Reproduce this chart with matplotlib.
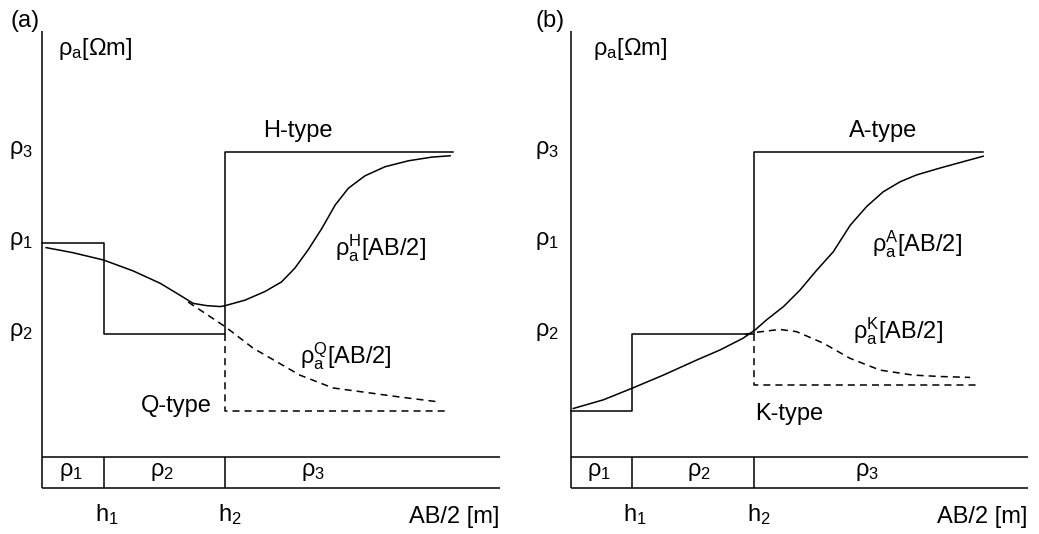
import matplotlib
matplotlib.use('Agg')
import matplotlib.pyplot as plt

plt.rcParams['font.family'] = ['Liberation Sans', 'DejaVu Sans']
plt.rcParams['mathtext.fontset'] = 'custom'
plt.rcParams['mathtext.rm'] = 'Liberation Sans'
plt.rcParams['mathtext.it'] = 'Liberation Sans'
plt.rcParams['mathtext.bf'] = 'Liberation Sans:bold'

# layer boundaries and resistivity levels (arbitrary units, axes 0..10)
h1_a, h2_a = 1.35, 4.00
h1_b, h2_b = 1.34, 4.01
strip_top = 0.68
rho3_lvl, rho1_lvl, rho2_lvl = 7.35, 5.36, 3.36
q_low, a_low, k_low = 1.69, 1.69, 2.26

# step models
h_step_x = [0, h1_a, h1_a, h2_a, h2_a, 8.98]
h_step_y = [rho1_lvl, rho1_lvl, rho2_lvl, rho2_lvl, rho3_lvl, rho3_lvl]
q_step_x = [h2_a, h2_a, 8.86]
q_step_y = [rho2_lvl, q_low, q_low]

a_step_x = [0, h1_b, h1_b, h2_b, h2_b, 9.01]
a_step_y = [a_low, a_low, rho2_lvl, rho2_lvl, rho3_lvl, rho3_lvl]
k_step_x = [h2_b, h2_b, 8.92]
k_step_y = [rho2_lvl, k_low, k_low]

# apparent resistivity curves
h_x = [0.09, 0.67, 1.34, 1.99, 2.58, 3.01, 3.30, 3.60, 3.89, 4.00, 4.43,
       4.87, 5.23, 5.52, 5.81, 6.11, 6.40, 6.69, 7.05, 7.49, 8.00, 8.51, 8.91]
h_y = [5.26, 5.15, 4.99, 4.75, 4.48, 4.22, 4.04, 3.99, 3.97, 3.99, 4.11,
       4.30, 4.51, 4.81, 5.21, 5.68, 6.19, 6.56, 6.83, 7.03, 7.16, 7.24, 7.27]
q_x = [3.19, 4.00, 4.61, 5.63, 6.35, 7.82, 8.62]
q_y = [4.07, 3.53, 3.06, 2.47, 2.19, 1.99, 1.89]

a_x = [0.05, 0.71, 1.33, 2.02, 2.75, 3.26, 3.77, 4.03, 4.28, 4.65, 5.01,
       5.38, 5.74, 6.11, 6.47, 6.83, 7.20, 7.56, 8.07, 8.58, 9.02]
a_y = [1.74, 1.93, 2.18, 2.47, 2.80, 3.02, 3.28, 3.46, 3.68, 3.97, 4.33,
       4.77, 5.17, 5.75, 6.16, 6.48, 6.70, 6.85, 7.00, 7.14, 7.26]
k_x = [3.81, 4.00, 4.57, 4.94, 5.52, 6.10, 6.76, 7.49, 8.07, 8.73]
k_y = [3.36, 3.40, 3.47, 3.42, 3.17, 2.84, 2.58, 2.47, 2.44, 2.42]

lvl_labels_a = ['ρ$_3$', 'ρ$_1$', 'ρ$_2$']
lvl_labels_b = ['ρ$_3$', 'ρ$_1$', 'ρ$_2$']
strip_labels = ['ρ$_1$', 'ρ$_2$', 'ρ$_3$']

fs = 17
lw = 1.1
dash = (4.6, 3.3)

fig = plt.figure(figsize=(10.39, 5.34), dpi=100)
ax_a = fig.add_axes([42 / 1039, 46 / 534, 458 / 1039, 457 / 534])
ax_b = fig.add_axes([571 / 1039, 46 / 534, 457 / 1039, 457 / 534])


def frame(ax, h1, h2, label, lab_x, strip_x, ylab_x):
    ax.set_xlim(0, 10)
    ax.set_ylim(0, 10)
    ax.axis('off')
    kw = dict(color='black', lw=lw, clip_on=False, solid_capstyle='butt')
    ax.plot([0, 0], [0, 10], **kw)
    ax.plot([0, 10], [0, 0], **kw)
    ax.plot([0, 10], [strip_top, strip_top], **kw)
    ax.plot([h1, h1], [0, strip_top], **kw)
    ax.plot([h2, h2], [0, strip_top], **kw)
    for s, xs in zip(strip_labels, strip_x):
        ax.text(xs, strip_top / 2, s, ha='center', va='center', fontsize=fs)
    ax.text(h1 - 0.2, -0.72, 'h$_1$', ha='left', va='baseline', fontsize=fs)
    ax.text(h2 - 0.15, -0.72, 'h$_2$', ha='left', va='baseline', fontsize=fs)
    ax.text(9.98, -0.77, 'AB/2 [m]', ha='right', va='baseline', fontsize=fs)
    ax.text(lab_x, 10.09, label, ha='left', va='baseline', fontsize=fs)
    ax.text(ylab_x, 9.47, 'ρ$_a$[Ωm]', ha='left', va='baseline', fontsize=fs)


frame(ax_a, h1_a, h2_a, '(a)', -0.68, [0.64, 2.61, 5.92], 0.35)
frame(ax_b, h1_b, h2_b, '(b)', -0.77, [0.61, 2.80, 6.48], 0.48)

for ax, labs, xr in [(ax_a, lvl_labels_a, -0.2), (ax_b, lvl_labels_b, -0.26)]:
    for s, lv in zip(labs, [rho3_lvl, rho1_lvl, rho2_lvl]):
        ax.text(xr, lv + 0.05, s, ha='right', va='center', fontsize=fs)

# panel (a)
ax_a.plot(h_step_x, h_step_y, color='black', lw=lw, clip_on=False)
ax_a.plot(q_step_x, q_step_y, color='black', lw=lw, ls=(0, dash), clip_on=False)
ax_a.plot(h_x, h_y, color='black', lw=lw, clip_on=False)
ax_a.plot(q_x, q_y, color='black', lw=lw, ls=(0, dash), clip_on=False)
ax_a.text(4.83, 7.69, 'H-type', fontsize=fs)
ax_a.text(6.40, 5.10, 'ρ$_a^H$[AB/2]', fontsize=fs)
ax_a.text(5.63, 2.73, 'ρ$_a^Q$[AB/2]', fontsize=fs)
ax_a.text(3.71, 1.67, 'Q-type', ha='right', fontsize=fs)

# panel (b)
ax_b.plot(a_step_x, a_step_y, color='black', lw=lw, clip_on=False)
ax_b.plot(k_step_x, k_step_y, color='black', lw=lw, ls=(0, dash), clip_on=False)
ax_b.plot(a_x, a_y, color='black', lw=lw, clip_on=False)
ax_b.plot(k_x, k_y, color='black', lw=lw, ls=(0, dash), clip_on=False)
ax_b.text(6.08, 7.69, 'A-type', fontsize=fs)
ax_b.text(6.59, 5.17, 'ρ$_a^A$[AB/2]', fontsize=fs)
ax_b.text(6.16, 3.27, 'ρ$_a^K$[AB/2]', fontsize=fs)
ax_b.text(4.03, 1.49, 'K-type', fontsize=fs)

fig.savefig('out.png', dpi=100)
